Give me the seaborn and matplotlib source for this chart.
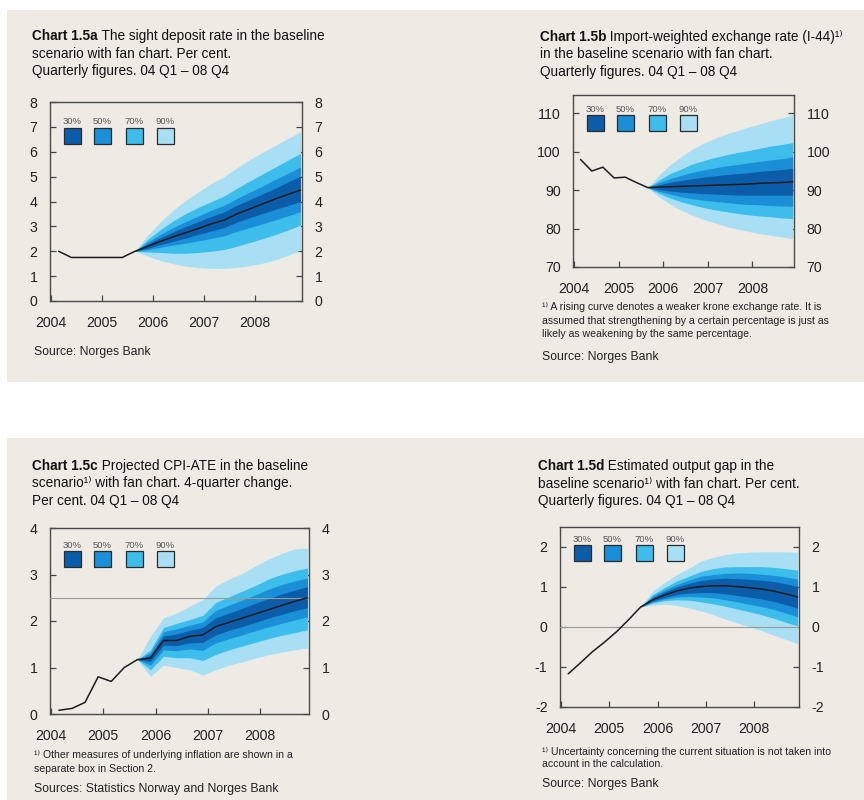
import numpy as np
import pandas as pd
import matplotlib
matplotlib.use('Agg')
import matplotlib.pyplot as plt
from matplotlib.patches import Rectangle
from matplotlib.text import Annotation
import seaborn as sns

sns.set_theme(style='white')
plt.rcParams['font.family'] = ['Liberation Sans', 'DejaVu Sans']
plt.rcParams['axes.unicode_minus'] = False

FIG_W, FIG_H = 864, 800
BG = '#EEEBE5'
KEY_LABELS = ['30%', '50%', '70%', '90%']
FAN_COLORS = {'30%': '#0B5DAA', '50%': '#1A8ED6', '70%': '#3DBDEC', '90%': '#A9DFF4'}
YEARS = [2004, 2005, 2006, 2007, 2008]
QUARTERS = pd.period_range('2004Q1', '2008Q4', freq='Q')
FC_START = 6  # 2005 Q3: the fans open here

# Chart 1.5a - sight deposit rate
rate_line = [2.00, 1.75, 1.75, 1.75, 1.75, 1.75, 2.00, 2.20, 2.40, 2.58,
             2.75, 2.92, 3.10, 3.25, 3.50, 3.70, 3.90, 4.10, 4.28, 4.46]
rate_lo90 = [2.00, 1.80, 1.62, 1.50, 1.40, 1.34, 1.31, 1.31, 1.35, 1.42, 1.52, 1.65, 1.83, 2.05]
rate_lo70 = [2.00, 1.97, 1.95, 1.92, 1.92, 1.95, 2.00, 2.07, 2.20, 2.35, 2.50, 2.67, 2.85, 3.05]
rate_lo50 = [2.00, 2.06, 2.16, 2.25, 2.33, 2.42, 2.52, 2.62, 2.80, 2.95, 3.10, 3.26, 3.42, 3.59]
rate_lo30 = [2.00, 2.12, 2.27, 2.40, 2.53, 2.68, 2.82, 2.95, 3.17, 3.35, 3.52, 3.68, 3.84, 3.99]
rate_hi30 = [2.00, 2.30, 2.55, 2.78, 3.00, 3.20, 3.40, 3.58, 3.85, 4.07, 4.30, 4.53, 4.78, 5.02]
rate_hi50 = [2.00, 2.37, 2.68, 2.95, 3.20, 3.42, 3.65, 3.85, 4.12, 4.37, 4.62, 4.88, 5.13, 5.39]
rate_hi70 = [2.00, 2.48, 2.87, 3.22, 3.52, 3.77, 4.00, 4.22, 4.53, 4.82, 5.10, 5.38, 5.66, 5.93]
rate_hi90 = [2.00, 2.65, 3.18, 3.65, 4.05, 4.40, 4.72, 5.00, 5.35, 5.68, 5.97, 6.25, 6.53, 6.80]

# Chart 1.5b - import-weighted exchange rate (I-44)
i44_line = [98.0, 95.0, 96.0, 93.2, 93.4, 92.0, 90.7, 90.8, 90.9, 91.0,
            91.1, 91.2, 91.3, 91.4, 91.5, 91.6, 91.8, 91.9, 92.0, 92.2]
i44_lo90 = [90.7, 88.3, 86.4, 84.8, 83.5, 82.4, 81.5, 80.6, 79.9, 79.3, 78.7, 78.3, 77.8, 77.4]
i44_lo70 = [90.7, 89.2, 88.0, 87.0, 86.2, 85.5, 84.9, 84.4, 84.0, 83.6, 83.3, 83.1, 82.8, 82.6]
i44_lo50 = [90.7, 89.7, 89.0, 88.3, 87.8, 87.4, 87.1, 86.8, 86.5, 86.3, 86.2, 86.0, 85.9, 85.8]
i44_lo30 = [90.7, 90.2, 89.8, 89.5, 89.3, 89.1, 89.0, 88.85, 88.75, 88.7, 88.7, 88.7, 88.7, 88.7]
i44_hi30 = [90.7, 91.4, 92.05, 92.55, 93.0, 93.4, 93.75, 94.05, 94.3, 94.55, 94.9, 95.15, 95.35, 95.7]
i44_hi50 = [90.7, 91.95, 93.0, 93.85, 94.65, 95.25, 95.8, 96.3, 96.7, 97.1, 97.5, 97.9, 98.2, 98.65]
i44_hi70 = [90.7, 92.6, 94.3, 95.5, 96.8, 97.7, 98.5, 99.2, 99.8, 100.3, 100.9, 101.5, 101.9, 102.4]
i44_hi90 = [90.7, 93.9, 96.6, 98.7, 100.7, 102.2, 103.5, 104.6, 105.5, 106.4, 107.2, 108.1, 108.8, 109.6]

# Chart 1.5c - CPI-ATE, 4-quarter change
cpi_line = [0.08, 0.12, 0.25, 0.80, 0.70, 1.00, 1.17, 1.20, 1.58, 1.58,
            1.67, 1.70, 1.88, 1.97, 2.06, 2.15, 2.24, 2.33, 2.42, 2.50]
cpi_lo90 = [1.17, 0.81, 1.05, 1.00, 0.95, 0.84, 0.95, 1.05, 1.12, 1.20, 1.27, 1.33, 1.38, 1.42]
cpi_lo70 = [1.17, 0.95, 1.24, 1.21, 1.21, 1.15, 1.28, 1.38, 1.46, 1.54, 1.62, 1.69, 1.75, 1.81]
cpi_lo50 = [1.17, 1.05, 1.38, 1.36, 1.40, 1.37, 1.53, 1.62, 1.70, 1.79, 1.87, 1.95, 2.02, 2.09]
cpi_lo30 = [1.17, 1.13, 1.48, 1.47, 1.53, 1.54, 1.70, 1.80, 1.88, 1.97, 2.06, 2.14, 2.22, 2.29]
cpi_hi30 = [1.17, 1.27, 1.68, 1.72, 1.80, 1.86, 2.07, 2.17, 2.27, 2.38, 2.48, 2.58, 2.66, 2.74]
cpi_hi50 = [1.17, 1.32, 1.77, 1.83, 1.91, 1.98, 2.23, 2.34, 2.45, 2.56, 2.68, 2.78, 2.86, 2.93]
cpi_hi70 = [1.17, 1.38, 1.86, 1.95, 2.03, 2.12, 2.40, 2.52, 2.64, 2.76, 2.90, 3.00, 3.08, 3.14]
cpi_hi90 = [1.17, 1.67, 2.07, 2.17, 2.32, 2.46, 2.75, 2.90, 3.02, 3.18, 3.33, 3.45, 3.55, 3.57]
cpi_target = 2.5

# Chart 1.5d - output gap
gap_line = [-1.17, -0.90, -0.62, -0.38, -0.12, 0.18, 0.50, 0.68, 0.80, 0.90,
            0.97, 1.01, 1.03, 1.03, 1.01, 0.98, 0.95, 0.90, 0.83, 0.75]
gap_lo90 = [0.50, 0.55, 0.57, 0.54, 0.48, 0.40, 0.31, 0.20, 0.10, 0.01, -0.09, -0.20, -0.31, -0.42]
gap_lo70 = [0.50, 0.60, 0.66, 0.68, 0.67, 0.63, 0.58, 0.52, 0.45, 0.38, 0.31, 0.22, 0.12, 0.03]
gap_lo50 = [0.50, 0.63, 0.70, 0.75, 0.76, 0.75, 0.73, 0.68, 0.63, 0.57, 0.51, 0.44, 0.35, 0.26]
gap_lo30 = [0.50, 0.65, 0.74, 0.81, 0.85, 0.86, 0.86, 0.83, 0.79, 0.75, 0.70, 0.64, 0.56, 0.47]
gap_hi30 = [0.50, 0.73, 0.88, 1.00, 1.09, 1.16, 1.20, 1.22, 1.21, 1.19, 1.17, 1.14, 1.08, 1.02]
gap_hi50 = [0.50, 0.77, 0.93, 1.06, 1.17, 1.27, 1.31, 1.34, 1.35, 1.34, 1.32, 1.29, 1.25, 1.20]
gap_hi70 = [0.50, 0.81, 0.99, 1.15, 1.27, 1.39, 1.46, 1.50, 1.51, 1.51, 1.51, 1.49, 1.46, 1.42]
gap_hi90 = [0.50, 0.90, 1.12, 1.31, 1.47, 1.65, 1.74, 1.81, 1.85, 1.87, 1.88, 1.88, 1.88, 1.87]
gap_zero = 0.0


def quarter_x(periods):
    # plot each quarter a little inside its year slot
    return np.array([p.year + (p.quarter - 1) / 4 + 0.15 for p in periods])


def px_rect(x0, y0, x1, y1):
    """Pixel box (top-left origin) -> figure fraction rect."""
    return [x0 / FIG_W, 1 - y1 / FIG_H, (x1 - x0) / FIG_W, (y1 - y0) / FIG_H]


def fig_text(fig, x, y, s, **kw):
    return fig.text(x / FIG_W, 1 - y / FIG_H, s, va='center', ha='left', **kw)


TITLE_SIZE = 9.8


def title(fig, x, y, bold, lines):
    t = fig_text(fig, x, y, bold, fontsize=TITLE_SIZE, fontweight='bold', color='#111')
    rest = Annotation(' ' + lines[0], xy=(1, 0), xycoords=t, va='bottom', ha='left',
                      fontsize=TITLE_SIZE, color='#111', annotation_clip=False)
    fig.add_artist(rest)
    for k, line in enumerate(lines[1:]):
        fig_text(fig, x, y + 17.5 * (k + 1), line, fontsize=TITLE_SIZE, color='#111')


def draw_key(ax, top_px):
    pos = ax.get_position()
    w, h = pos.width * FIG_W, pos.height * FIG_H
    for label, cx in zip(KEY_LABELS, [22, 52, 84.5, 115.5]):
        ax.add_patch(Rectangle(((cx - 8.5) / w, 1 - (top_px + 16) / h), 17 / w, 16 / h,
                               transform=ax.transAxes, facecolor=FAN_COLORS[label],
                               edgecolor='#2b2b2b', lw=0.9, zorder=6, clip_on=False))
        ax.text(cx / w, 1 - (top_px - 1.5) / h, label, transform=ax.transAxes,
                ha='center', va='bottom', fontsize=6.8, color='#555', zorder=6)


def draw_panel(ax, line, bands, ylim, yticks, ref=None, key_top=22):
    xs = quarter_x(QUARTERS)
    xf = xs[FC_START:]
    ax.set_facecolor(BG)
    for name in ['90%', '70%', '50%', '30%']:
        lo, hi = bands[name]
        ax.fill_between(xf, lo, hi, color=FAN_COLORS[name], lw=0, zorder=2)
    if ref is not None:
        ax.axhline(ref, color='#9a9a9a', lw=0.8, zorder=3)
    sns.lineplot(x=xs, y=line, ax=ax, color='#1c1c1c', lw=1.1, zorder=4, legend=False)

    ax.set_xlim(2003.98, 2008.93)
    ax.set_ylim(*ylim)
    ax.set_xticks(YEARS)
    ax.set_xticklabels([str(y) for y in YEARS])
    ax.set_yticks(yticks)
    ax.tick_params(axis='x', direction='in', length=4, width=0.9, color='#444',
                   pad=11, labelsize=10.2, labelcolor='#222', bottom=True, top=False)
    ax.tick_params(axis='y', direction='in', length=4, width=0.9, color='#444',
                   pad=9, labelsize=10.2, labelcolor='#222',
                   left=True, right=True, labelleft=True, labelright=True)
    for sp in ax.spines.values():
        sp.set_color('#4a4a4a')
        sp.set_linewidth(1.0)
        sp.set_visible(True)
    ax.grid(False)
    draw_key(ax, key_top)


fig = plt.figure(figsize=(FIG_W / 100, FIG_H / 100), dpi=100, facecolor='white')

# beige panels behind the two rows
fig.patches.append(Rectangle((7 / FIG_W, 1 - 382 / FIG_H), 1, 372 / FIG_H,
                             transform=fig.transFigure, facecolor=BG, lw=0, zorder=-5))
fig.patches.append(Rectangle((7 / FIG_W, 0), 1, 1 - 438 / FIG_H,
                             transform=fig.transFigure, facecolor=BG, lw=0, zorder=-5))

ax_a = fig.add_axes(px_rect(50, 102, 302, 301))
ax_b = fig.add_axes(px_rect(573, 95, 794, 267))
ax_c = fig.add_axes(px_rect(50, 528, 309, 714))
ax_d = fig.add_axes(px_rect(560, 527, 799, 707))

draw_panel(ax_a, rate_line,
           {'90%': (rate_lo90, rate_hi90), '70%': (rate_lo70, rate_hi70),
            '50%': (rate_lo50, rate_hi50), '30%': (rate_lo30, rate_hi30)},
           (0, 8), range(0, 9), key_top=26)
draw_panel(ax_b, i44_line,
           {'90%': (i44_lo90, i44_hi90), '70%': (i44_lo70, i44_hi70),
            '50%': (i44_lo50, i44_hi50), '30%': (i44_lo30, i44_hi30)},
           (70, 114.8), range(70, 111, 10), key_top=20)
draw_panel(ax_c, cpi_line,
           {'90%': (cpi_lo90, cpi_hi90), '70%': (cpi_lo70, cpi_hi70),
            '50%': (cpi_lo50, cpi_hi50), '30%': (cpi_lo30, cpi_hi30)},
           (0, 4), range(0, 5), ref=cpi_target, key_top=23)
draw_panel(ax_d, gap_line,
           {'90%': (gap_lo90, gap_hi90), '70%': (gap_lo70, gap_hi70),
            '50%': (gap_lo50, gap_hi50), '30%': (gap_lo30, gap_hi30)},
           (-2, 2.5), range(-2, 3), ref=gap_zero, key_top=18)

# titles
title(fig, 32, 36, 'Chart 1.5a', ['The sight deposit rate in the baseline',
                                  'scenario with fan chart. Per cent.',
                                  'Quarterly figures. 04 Q1 – 08 Q4'])
title(fig, 540, 37, 'Chart 1.5b', ['Import-weighted exchange rate (I-44)¹⁾',
                                   'in the baseline scenario with fan chart.',
                                   'Quarterly figures. 04 Q1 – 08 Q4'])
title(fig, 32, 466, 'Chart 1.5c', ['Projected CPI-ATE in the baseline',
                                   'scenario¹⁾ with fan chart. 4-quarter change.',
                                   'Per cent. 04 Q1 – 08 Q4'])
title(fig, 538, 466, 'Chart 1.5d', ['Estimated output gap in the',
                                    'baseline scenario¹⁾ with fan chart. Per cent.',
                                    'Quarterly figures. 04 Q1 – 08 Q4'])

# footnotes and sources
note_kw = dict(fontsize=7.6, color='#222')
src_kw = dict(fontsize=8.8, color='#222')
fig_text(fig, 34, 352, 'Source: Norges Bank', **src_kw)

fig_text(fig, 542, 307, '¹⁾ A rising curve denotes a weaker krone exchange rate. It is', **note_kw)
fig_text(fig, 542, 321, 'assumed that strengthening by a certain percentage is just as', **note_kw)
fig_text(fig, 542, 334, 'likely as weakening by the same percentage.', **note_kw)
fig_text(fig, 542, 357, 'Source: Norges Bank', **src_kw)

fig_text(fig, 34, 755, '¹⁾ Other measures of underlying inflation are shown in a', **note_kw)
fig_text(fig, 34, 769, 'separate box in Section 2.', **note_kw)
fig_text(fig, 34, 789, 'Sources: Statistics Norway and Norges Bank', **src_kw)

fig_text(fig, 542, 752, '¹⁾ Uncertainty concerning the current situation is not taken into', **note_kw)
fig_text(fig, 542, 764, 'account in the calculation.', **note_kw)
fig_text(fig, 542, 784, 'Source: Norges Bank', **src_kw)

fig.savefig('out.png', dpi=100, facecolor='white')
